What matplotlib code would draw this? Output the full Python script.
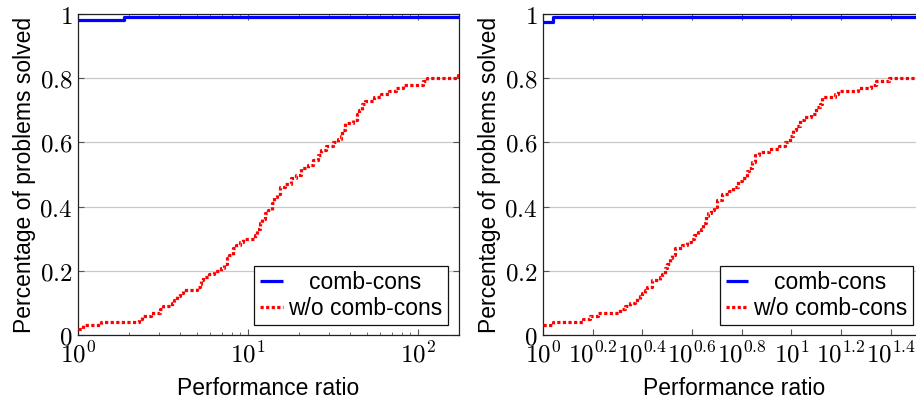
import numpy as np
import matplotlib
matplotlib.use("Agg")
import matplotlib.pyplot as plt
from matplotlib.ticker import FixedLocator, FixedFormatter, NullLocator, LogLocator

plt.rcParams['mathtext.fontset'] = 'cm'
plt.rcParams['font.family'] = ['Liberation Sans', 'DejaVu Sans']

# ---------------- data ----------------
series_names = ["comb-cons", "w/o comb-cons"]

# left panel
left_blue_x = [1.0, 1.86]
left_blue_y = [0.98, 0.99]
left_red_x = [1.0, 1.072, 1.371, 2.291, 2.371, 2.692, 3.020, 3.162, 3.548, 3.673,
              3.802, 3.981, 4.169, 5.012, 5.188, 5.309, 5.433, 5.888, 6.310, 6.918,
              7.244, 7.499, 7.762, 8.128, 8.511, 9.016, 9.333, 10.96, 11.35, 11.75,
              12.02, 12.59, 13.18, 13.80, 14.29, 14.79, 15.49, 16.60, 17.78, 19.05,
              20.42, 22.39, 23.99, 25.70, 26.92, 28.84, 31.62, 33.88, 35.08, 35.89,
              37.15, 41.69, 43.65, 45.19, 46.77, 48.98, 54.95, 60.26, 67.61, 74.13,
              81.28, 107.2, 112.2, 171.8]
left_red_y = [0.02, 0.03, 0.04, 0.05, 0.06, 0.07, 0.08, 0.09, 0.10, 0.11,
              0.12, 0.13, 0.14, 0.15, 0.16, 0.17, 0.18, 0.19, 0.20, 0.21,
              0.22, 0.24, 0.25, 0.27, 0.28, 0.29, 0.30, 0.31, 0.33, 0.35,
              0.36, 0.38, 0.39, 0.41, 0.43, 0.44, 0.46, 0.47, 0.49, 0.50,
              0.52, 0.53, 0.545, 0.56, 0.575, 0.59, 0.60, 0.61, 0.62, 0.64,
              0.66, 0.67, 0.69, 0.70, 0.72, 0.73, 0.74, 0.75, 0.76, 0.77,
              0.78, 0.79, 0.80, 0.81]
left_xmax = 174.0
left_xticks = [1, 10, 100]
left_xticklabels = [r'$10^{0}$', r'$10^{1}$', r'$10^{2}$']

# right panel
right_blue_x = [1.0, 1.1]
right_blue_y = [0.975, 0.99]
right_red_x = [1.0, 1.096, 1.445, 1.549, 1.660, 2.042, 2.138, 2.239, 2.344, 2.455,
               2.512, 2.570, 2.630, 2.754, 2.951, 3.020, 3.090, 3.162, 3.236, 3.311,
               3.388, 3.631, 3.802, 3.936, 4.074, 4.217, 4.315, 4.416, 4.519, 4.624,
               4.732, 4.898, 5.012, 5.248, 5.623, 5.821, 6.095, 6.310, 6.607, 6.761,
               6.918, 7.161, 7.413, 8.128, 8.913, 9.441, 9.886, 10.12, 10.47, 10.84,
               11.22, 12.02, 12.59, 13.03, 13.34, 14.96, 15.49, 18.62, 20.89, 21.88,
               24.83]
right_red_y = [0.03, 0.04, 0.05, 0.06, 0.07, 0.08, 0.09, 0.10, 0.11, 0.12,
               0.13, 0.14, 0.15, 0.17, 0.18, 0.19, 0.21, 0.22, 0.24, 0.25,
               0.27, 0.28, 0.29, 0.30, 0.31, 0.32, 0.33, 0.35, 0.37, 0.38,
               0.39, 0.40, 0.42, 0.44, 0.45, 0.46, 0.48, 0.49, 0.51, 0.52,
               0.54, 0.56, 0.57, 0.58, 0.59, 0.60, 0.62, 0.64, 0.65, 0.67,
               0.68, 0.69, 0.71, 0.72, 0.74, 0.75, 0.76, 0.77, 0.78, 0.79,
               0.80]
right_xmax = 34.4
right_xticks = [1.0, 1.585, 2.512, 3.981, 6.310, 10.0, 15.85, 25.12]
right_xticklabels = [r'$10^{0}$', r'$10^{0.2}$', r'$10^{0.4}$', r'$10^{0.6}$',
                     r'$10^{0.8}$', r'$10^{1}$', r'$10^{1.2}$', r'$10^{1.4}$']

yticks = [0, 0.2, 0.4, 0.6, 0.8, 1.0]
yticklabels = [r'$0$', r'$0.2$', r'$0.4$', r'$0.6$', r'$0.8$', r'$1$']

xlabel = "Performance ratio"
ylabel = "Percentage of problems solved"

BLUE = '#0000ff'
RED = '#ff0000'
LABEL_FS = 16.5
TICK_FS = 18

fig = plt.figure(figsize=(9.16, 3.98), dpi=100)
ax1 = fig.add_axes([78 / 916, 63 / 398, 381 / 916, 321 / 398])
ax2 = fig.add_axes([543 / 916, 63 / 398, 381.5 / 916, 321 / 398])


def panel(ax, bx, by, rx, ry, xmax, xt, xtl, minor):
    ax.set_xscale('log')
    ax.plot(list(bx) + [xmax], list(by) + [by[-1]], drawstyle='steps-post',
            color=BLUE, lw=2.3, solid_capstyle='butt', label=series_names[0], zorder=3)
    ax.plot(list(rx) + [xmax], list(ry) + [ry[-1]], drawstyle='steps-post',
            color=RED, lw=2.3, linestyle=(0, (1.0, 0.75)), dash_capstyle='butt',
            label=series_names[1], zorder=3)
    ax.set_xlim(1, xmax)
    ax.set_ylim(0, 1)
    ax.xaxis.set_major_locator(FixedLocator(xt))
    ax.xaxis.set_major_formatter(FixedFormatter(xtl))
    if minor:
        ax.xaxis.set_minor_locator(LogLocator(base=10, subs=np.arange(2, 10)))
    else:
        ax.xaxis.set_minor_locator(NullLocator())
    ax.xaxis.set_minor_formatter(plt.NullFormatter())
    ax.yaxis.set_major_locator(FixedLocator(yticks))
    ax.yaxis.set_major_formatter(FixedFormatter(yticklabels))
    ax.tick_params(axis='both', which='both', direction='in', top=True, right=True,
                   color='#555555', labelsize=TICK_FS)
    ax.tick_params(axis='both', which='major', length=4, width=0.8)
    ax.tick_params(axis='both', which='minor', length=2.5, width=0.6)
    ax.tick_params(axis='x', which='major', pad=4.5)
    ax.tick_params(axis='y', which='major', pad=4)
    ax.grid(axis='y', which='major', color='#c8c8c8', lw=0.9)
    ax.set_axisbelow(True)
    for s in ax.spines.values():
        s.set_color('#222222')
        s.set_linewidth(0.9)
    ax.set_xlabel(xlabel, fontsize=LABEL_FS, labelpad=7)
    ax.set_ylabel(ylabel, fontsize=LABEL_FS, labelpad=2)
    leg = ax.legend(loc='lower right', bbox_to_anchor=(0.97, 0.03), borderaxespad=0,
                    fontsize=LABEL_FS, frameon=True, fancybox=False, framealpha=1,
                    edgecolor='#111111', handlelength=1.0, handletextpad=0.2,
                    borderpad=0.25, labelspacing=0.1)
    leg.get_frame().set_linewidth(0.9)
    return leg


leg1 = panel(ax1, left_blue_x, left_blue_y, left_red_x, left_red_y, left_xmax,
             left_xticks, left_xticklabels, True)
leg2 = panel(ax2, right_blue_x, right_blue_y, right_red_x, right_red_y, right_xmax,
             right_xticks, right_xticklabels, False)

fig.canvas.draw()
for leg in (leg1, leg2):
    t = leg.get_texts()
    w0 = t[0].get_window_extent().width
    w1 = t[1].get_window_extent().width
    t[0].set_x((w1 - w0) / 2)

fig.savefig('out.png', dpi=100)
